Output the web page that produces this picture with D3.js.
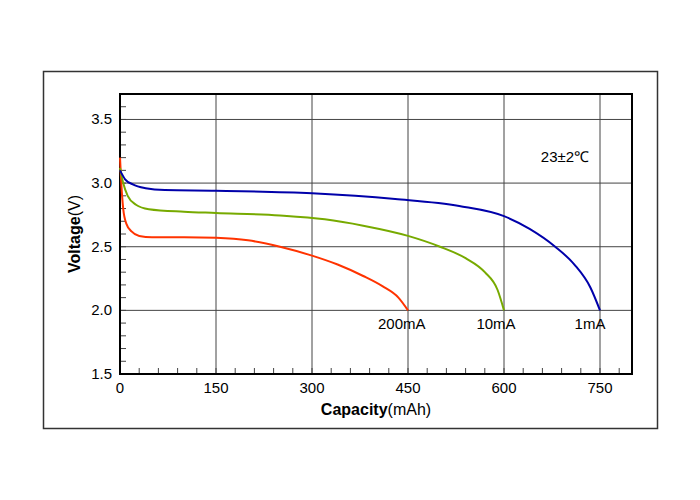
<!DOCTYPE html><html><head><meta charset="utf-8"><script src="https://cdn.jsdelivr.net/npm/d3@7"></script>
<style>body{margin:0;background:#fff;font-family:"Liberation Sans",Arial,sans-serif}</style></head><body><svg id="c" width="700" height="500"></svg><script>
const xTicks=[0,150,300,450,600,750];
const yTicks=[1.5,2.0,2.5,3.0,3.5];
const red=[[0,3.2],[2,3.0],[5,2.8],[10,2.68],[18,2.62],[30,2.585],[50,2.575],[100,2.575],[150,2.57],[200,2.55],[250,2.5],[300,2.43],[340,2.36],[380,2.27],[410,2.19],[435,2.1],[450,2.0]];
const green=[[0,3.12],[5,3.0],[12,2.9],[25,2.83],[45,2.795],[100,2.775],[150,2.765],[250,2.745],[320,2.715],[380,2.665],[450,2.585],[500,2.5],[540,2.41],[570,2.3],[590,2.16],[600,2.0]];
const blue=[[0,3.1],[8,3.03],[20,2.99],[40,2.96],[70,2.945],[150,2.94],[300,2.92],[430,2.875],[530,2.82],[600,2.74],[640,2.64],[680,2.5],[710,2.36],[735,2.18],[750,2.0]];
const series=[{d:red,c:"#ff3300",l:"200mA",lx:-30},{d:green,c:"#77aa00",l:"10mA",lx:-8},{d:blue,c:"#0000aa",l:"1mA",lx:-10}];
const svg=d3.select("#c");
svg.append("rect").attr("x",43.5).attr("y",71.5).attr("width",614).attr("height",357).attr("fill","none").attr("stroke","#333").attr("stroke-width",1.5);
const x=d3.scaleLinear().domain([0,800]).range([120,632]);
const y=d3.scaleLinear().domain([1.5,3.7]).range([374,94]);
const g=svg.append("g");
xTicks.slice(1).forEach(t=>g.append("line").attr("x1",x(t)).attr("x2",x(t)).attr("y1",94).attr("y2",374).attr("stroke","#444"));
yTicks.slice(1).forEach(t=>g.append("line").attr("y1",y(t)).attr("y2",y(t)).attr("x1",120).attr("x2",632).attr("stroke","#444"));
d3.range(30,800,30).forEach(t=>g.append("line").attr("x1",x(t)).attr("x2",x(t)).attr("y1",374).attr("y2",368).attr("stroke","#444"));
d3.range(1.6,3.7,0.1).forEach(t=>g.append("line").attr("y1",y(t)).attr("y2",y(t)).attr("x1",120).attr("x2",126).attr("stroke","#444"));
g.append("rect").attr("x",120).attr("y",94).attr("width",512).attr("height",280).attr("fill","none").attr("stroke","#000").attr("stroke-width",2);
xTicks.forEach(t=>svg.append("text").attr("x",x(t)).attr("y",393).attr("text-anchor","middle").attr("font-size",15).text(t));
yTicks.forEach(t=>svg.append("text").attr("x",112).attr("y",y(t)+5).attr("text-anchor","end").attr("font-size",15).text(t.toFixed(1)));
const line=d3.line().x(d=>x(d[0])).y(d=>y(d[1])).curve(d3.curveMonotoneX);
series.forEach(s=>{svg.append("path").attr("d",line(s.d)).attr("fill","none").attr("stroke",s.c).attr("stroke-width",2);
 const e=s.d[s.d.length-1];svg.append("text").attr("x",x(e[0])+s.lx).attr("y",y(e[1])+19).attr("font-size",15).attr("text-anchor",s.lx<-20?"start":"middle").text(s.l);});
svg.append("text").attr("x",565).attr("y",162).attr("text-anchor","middle").attr("font-size",15).text("23±2℃");
const xl=svg.append("text").attr("x",376).attr("y",415).attr("text-anchor","middle").attr("font-size",16);
xl.append("tspan").attr("font-weight","bold").text("Capacity");xl.append("tspan").text("(mAh)");
const yl=svg.append("text").attr("transform","translate(80,234) rotate(-90)").attr("text-anchor","middle").attr("font-size",16);
yl.append("tspan").attr("font-weight","bold").text("Voltage");yl.append("tspan").text("(V)");
</script></body></html>
